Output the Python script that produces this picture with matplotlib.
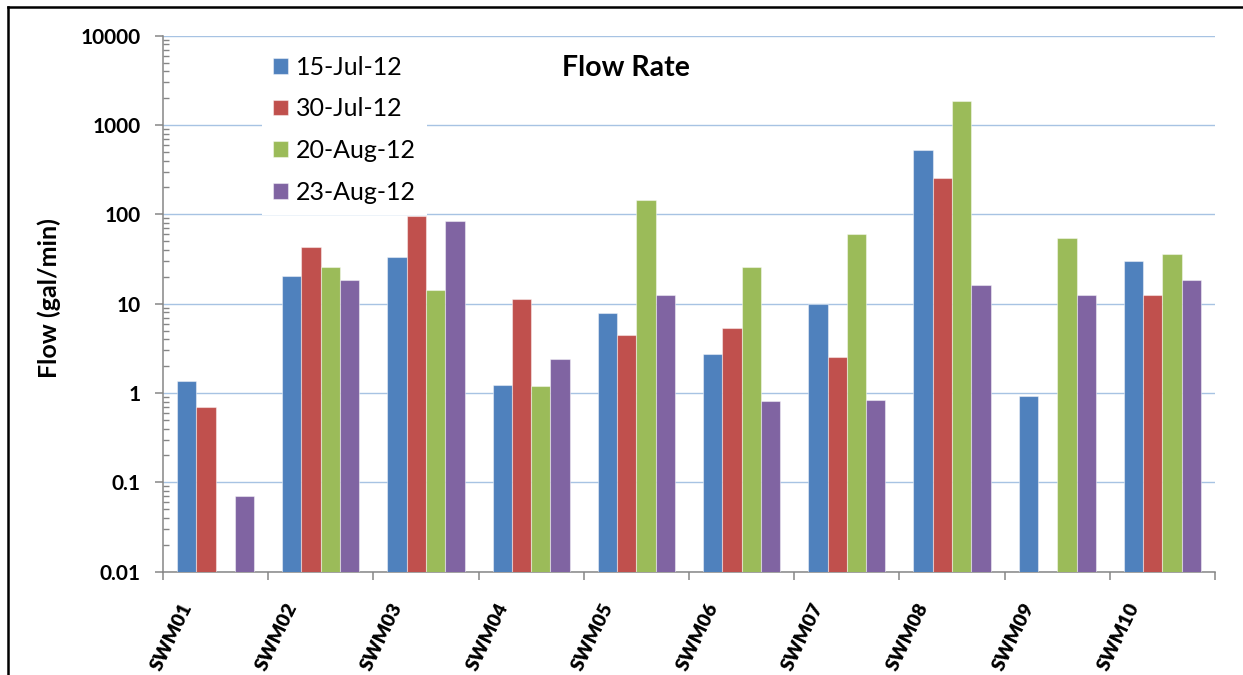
import numpy as np
import matplotlib
matplotlib.use("Agg")
import matplotlib.pyplot as plt
import matplotlib.transforms as mtransforms
from matplotlib.lines import Line2D
from matplotlib.ticker import LogLocator, FixedLocator, NullFormatter

plt.rcParams['font.family'] = ['Lato', 'DejaVu Sans']

# flow measurements per station, gal/min (nan = not measured)
stations = ['SWM01', 'SWM02', 'SWM03', 'SWM04', 'SWM05',
            'SWM06', 'SWM07', 'SWM08', 'SWM09', 'SWM10']
dates = ['15-Jul-12', '30-Jul-12', '20-Aug-12', '23-Aug-12']
jul15 = [1.38, 20.3, 33.4, 1.24, 7.8, 2.73, 10.0, 528, 0.925, 30.3]
jul30 = [0.69, 43.4, 95.0, 11.2, 4.44, 5.4, 2.54, 255, np.nan, 12.4]
aug20 = [np.nan, 25.6, 14.1, 1.2, 144, 25.6, 60.0, 1857, 54.8, 35.7]
aug23 = [0.070, 18.4, 84.0, 2.4, 12.4, 0.81, 0.835, 16.1, 12.4, 18.4]
series = [jul15, jul30, aug20, aug23]
colors = ['#4F81BD', '#C0504D', '#9BBB59', '#8064A2']
ytick_vals = [0.01, 0.1, 1, 10, 100, 1000, 10000]
ytick_labels = ['0.01', '0.1', '1', '10', '100', '1000', '10000']

fig = plt.figure(figsize=(12.43, 6.75), dpi=100)
ax = fig.add_axes([0.1311, 0.1530, 0.8464, 0.7941])

x = np.arange(len(stations))
w = 0.1835
for i, (vals, c) in enumerate(zip(series, colors)):
    ax.bar(x + (i - 1.5) * w, vals, width=w, color=c,
           edgecolor=(1, 1, 1, 0.45), linewidth=0.8, label=dates[i], zorder=3)

ax.set_yscale('log')
ax.set_ylim(0.01, 10000)
ax.set_xlim(-0.5, len(stations) - 0.5)

grey = '#868686'
ax.yaxis.set_major_locator(FixedLocator(ytick_vals))
ax.set_yticklabels(ytick_labels, fontsize=15, fontweight='bold')
ax.yaxis.set_minor_locator(LogLocator(base=10, subs=np.arange(2, 10)))
ax.yaxis.set_minor_formatter(NullFormatter())
ax.tick_params(axis='y', which='major', direction='out', length=6,
               width=1.1, color=grey, pad=10)
ax.tick_params(axis='y', which='minor', direction='in', length=4.5,
               width=1.0, color=grey)

ax.set_xticks(x)
ax.set_xticklabels(stations, fontsize=14, fontweight='heavy', rotation=64,
                   ha='right', va='center', rotation_mode='anchor')
ax.set_xticks(np.arange(-0.5, len(stations)), minor=True)
ax.tick_params(axis='x', which='major', length=0, pad=0)
ax.tick_params(axis='x', which='minor', direction='out', length=6,
               width=1.1, color=grey)
shift = mtransforms.ScaledTranslation(-0.28, -0.32, fig.dpi_scale_trans)
for lab in ax.get_xticklabels():
    lab.set_transform(lab.get_transform() + shift)

ax.grid(axis='y', which='major', color='#a7c3e3', linewidth=1.0, zorder=0)
ax.set_axisbelow(True)
for s in ['top', 'right']:
    ax.spines[s].set_visible(False)
for s in ['left', 'bottom']:
    ax.spines[s].set_color(grey)
    ax.spines[s].set_linewidth(1.1)

ax.set_ylabel('Flow (gal/min)', fontsize=18, fontweight='bold')
ax.yaxis.set_label_coords(-0.097, 0.51)

ax.text(0.44, 0.94, 'Flow Rate', transform=ax.transAxes, ha='center',
        va='center', fontsize=20.5, fontweight='bold')

leg = ax.legend(loc='upper left', bbox_to_anchor=(0.094, 0.984), fontsize=18,
                frameon=True, facecolor='white', edgecolor='none', framealpha=1,
                fancybox=False, borderpad=0.45, borderaxespad=0,
                handlelength=0.6, handleheight=0.6, handletextpad=0.3,
                labelspacing=0.75)
leg.get_frame().set_boxstyle('square', pad=0)
leg.set_zorder(2.5)

# outer frame lines
fig.add_artist(Line2D([0.0064, 1.0], [0.9896, 0.9896], color='black',
                      linewidth=1.8, transform=fig.transFigure))
fig.add_artist(Line2D([0.0064, 0.0064], [0.0, 0.9896], color='black',
                      linewidth=1.8, transform=fig.transFigure))

fig.savefig('out.png', dpi=100)
